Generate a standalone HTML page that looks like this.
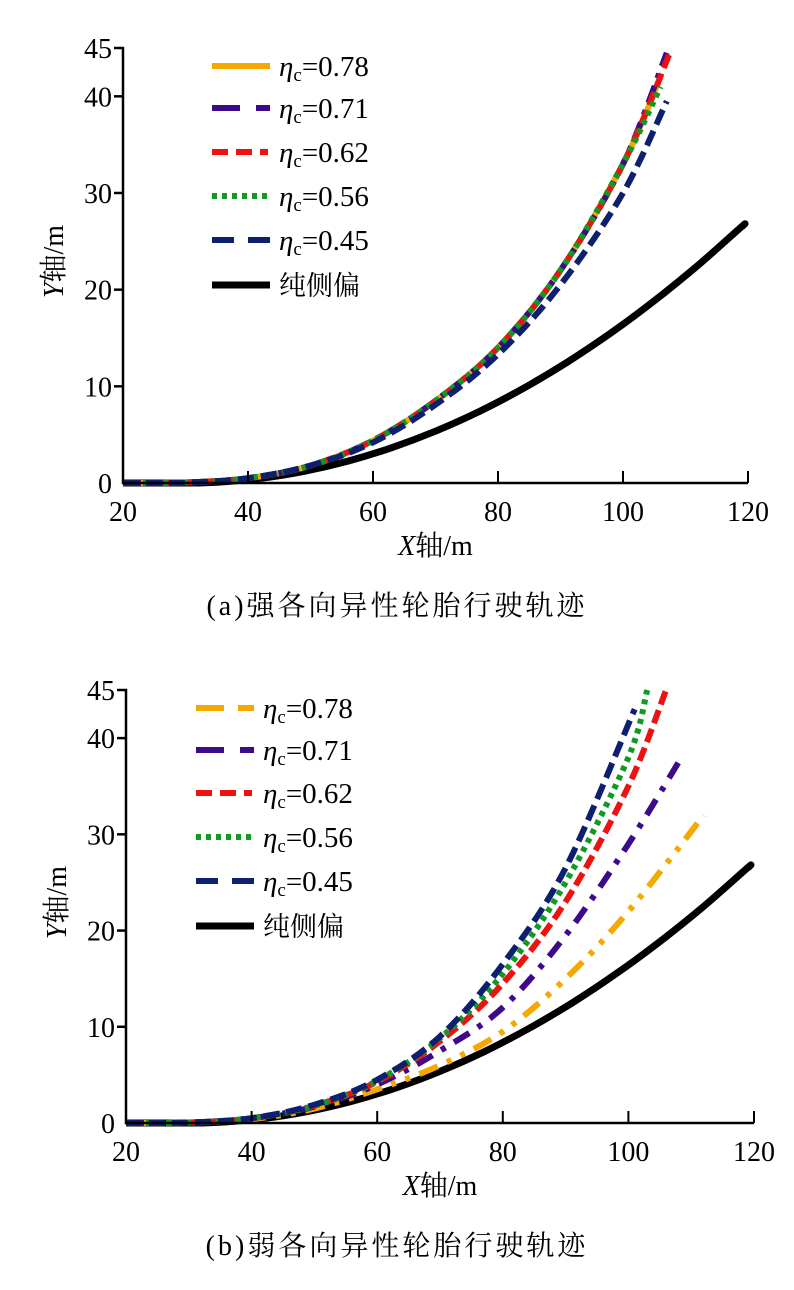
<!DOCTYPE html>
<html><head><meta charset="utf-8">
<style>
html,body{margin:0;padding:0;background:#fff;}
svg{display:block;}
text{font-family:"Liberation Serif","Noto Serif CJK SC",serif;fill:#000;}
</style></head>
<body>
<svg id="s" width="794" height="1290" xmlns="http://www.w3.org/2000/svg"></svg>
<script>
const s=document.getElementById('s');
let h='';
function chart(o){
  const X=v=>o.x0+(v-20)*(o.x1-o.x0)/100, Y=v=>o.y0-(v)*(o.y0-o.y45)/45;
  function cr(pts){
    const P=pts.map(p=>[X(p[0]),Y(p[1])]);
    let d='M'+P[0][0].toFixed(1)+' '+P[0][1].toFixed(1);
    for(let i=0;i<P.length-1;i++){
      const p0=P[Math.max(0,i-1)],p1=P[i],p2=P[i+1],p3=P[Math.min(P.length-1,i+2)];
      const c1=[p1[0]+(p2[0]-p0[0])/6,p1[1]+(p2[1]-p0[1])/6];
      const c2=[p2[0]-(p3[0]-p1[0])/6,p2[1]-(p3[1]-p1[1])/6];
      d+=` C${c1[0].toFixed(1)} ${c1[1].toFixed(1)} ${c2[0].toFixed(1)} ${c2[1].toFixed(1)} ${p2[0].toFixed(1)} ${p2[1].toFixed(1)}`;
    }
    return d;
  }
  const blk=[[20,0],[30,0]];for(let x=35;x<=119;x+=7)blk.push([x,0.00335*(x-30)*(x-30)]);blk.push([119,26.5]);
  h+=`<path d="${cr(blk)}" stroke="#000" stroke-width="7" fill="none"/>`;
  o.series.forEach(c=>{h+=`<path d="${cr(c.pts)}" stroke="${c.col}" stroke-width="6" fill="none" stroke-dasharray="${c.da}"/>`;});
  // axes
  h+=`<path d="M${o.x0-9} ${o.y45}H${o.x0}V${o.y0}H${o.x1}" stroke="#000" stroke-width="2.5" fill="none"/>`;
  [10,20,30,40].forEach(v=>{h+=`<line x1="${o.x0-9}" x2="${o.x0}" y1="${Y(v)}" y2="${Y(v)}" stroke="#000" stroke-width="2.5"/>`;});
  [40,60,80,100,120].forEach(v=>{h+=`<line x1="${X(v)}" x2="${X(v)}" y1="${o.y0}" y2="${o.y0-12}" stroke="#000" stroke-width="2"/>`;});
  [0,10,20,30,40,45].forEach(v=>{h+=`<text x="${o.x0-11}" y="${Y(v)+10}" font-size="28" text-anchor="end">${v}</text>`;});
  [20,40,60,80,100,120].forEach(v=>{h+=`<text x="${X(v)}" y="${o.y0+38}" font-size="28" text-anchor="middle">${v}</text>`;});
  h+=`<text x="${(o.x0+o.x1)/2}" y="${o.y0+72}" font-size="28" text-anchor="middle"><tspan font-style="italic">X</tspan>轴/m</text>`;
  h+=`<text transform="translate(${o.x0-60},${(o.y0+o.y45)/2-4}) rotate(-90)" font-size="28" text-anchor="middle"><tspan font-style="italic">Y</tspan>轴/m</text>`;
  h+=`<text x="397" y="${o.y0+132}" font-size="28" letter-spacing="3" text-anchor="middle">${o.cap}</text>`;
  // legend
  const labs=['0.78','0.71','0.62','0.56','0.45'];
  o.series.forEach((c,i)=>{
    const y=o.ly[i];
    h+=`<line x1="${o.lx}" x2="${o.lx+58}" y1="${y}" y2="${y}" stroke="${c.col}" stroke-width="6" stroke-dasharray="${c.lda}"/>`;
    h+=`<text x="${o.lx+67}" y="${y+10}" font-size="29"><tspan font-style="italic">η</tspan><tspan font-size="19" dy="5">c</tspan><tspan dy="-5">=${labs[i]}</tspan></text>`;
  });
  const y=o.ly[5];
  h+=`<line x1="${o.lx}" x2="${o.lx+58}" y1="${y}" y2="${y}" stroke="#000" stroke-width="7"/>`;
  h+=`<text x="${o.lx+67}" y="${y+10}" font-size="27">纯侧偏</text>`;
}
const A=(e)=>[[20,0],[30,0.05],[40,0.5],[50,1.8],[60,4.4],[70,8.5],[80,14],[90,22],[100,33]].concat(e);
chart({x0:123,x1:748,y0:483,y45:48,cap:'(a)强各向异性轮胎行驶轨迹',lx:212,ly:[66,108,152,196,240,285],
 series:[
  {col:'#f5a800',pts:A([[106,42]]),da:'',lda:''},
  {col:'#3d0a8a',pts:A([[107,44.5]]),da:'18 8 5 8',lda:'28 16 8 0'},
  {col:'#ee1111',pts:A([[107.5,44.5]]),da:'14 6',lda:'16 8 16 8 8'},
  {col:'#119922',pts:A([[106,41]]),da:'5 5',lda:'5 5'},
  {col:'#0d1f6e',pts:[[20,0],[30,0.05],[40,0.5],[50,1.8],[60,4.2],[70,8.1],[80,13.3],[90,20.5],[100,30],[107,39.5]],da:'16 7',lda:'22 14'}]});
chart({x0:126,x1:754,y0:1123,y45:690,cap:'(b)弱各向异性轮胎行驶轨迹',lx:196,ly:[708,750,793,837,881,926],
 series:[
  {col:'#f5a800',pts:[[20,0],[30,0.05],[40,0.4],[50,1.5],[60,3.5],[70,6],[80,9.5],[90,15],[100,22],[112,32]],da:'20 10 5 10 5 10',lda:'28 14 8 0'},
  {col:'#3d0a8a',pts:[[20,0],[30,0.05],[40,0.5],[50,1.7],[60,4],[70,7.5],[80,12],[90,19.5],[100,29],[108,37.5]],da:'18 10 5 10',lda:'28 16 8 0'},
  {col:'#ee1111',pts:[[20,0],[30,0.05],[40,0.5],[50,1.8],[60,4.3],[70,8.5],[80,14.5],[90,23],[100,35],[106,45]],da:'14 6',lda:'16 8 16 8 8'},
  {col:'#119922',pts:[[20,0],[30,0.05],[40,0.5],[50,1.8],[60,4.4],[70,8.8],[80,15.5],[90,25],[100,38],[103,45]],da:'5 5',lda:'5 5'},
  {col:'#0d1f6e',pts:[[20,0],[30,0.05],[40,0.5],[50,1.9],[60,4.5],[70,9],[80,16.5],[90,26.5],[101,43]],da:'16 7',lda:'22 14'}]});
s.innerHTML=h;
</script>
</body></html>
